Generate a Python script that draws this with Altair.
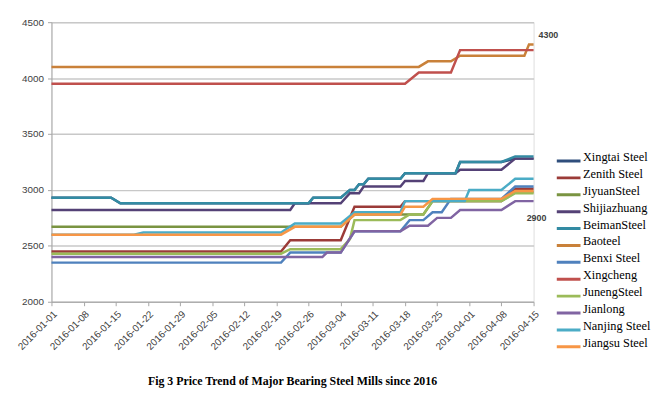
import altair as alt
import pandas as pd

series_names = ["Xingtai Steel", "Zenith Steel", "JiyuanSteel", "Shijiazhuang", "BeimanSteel",
                "Baoteel", "Benxi Steel", "Xingcheng", "JunengSteel", "Jianlong",
                "Nanjing Steel", "Jiangsu Steel"]
series_colors = ["#2F4E7C", "#9B3B38", "#7A9441", "#544176", "#338BA3",
                 "#C9813A", "#4F81BD", "#C0504D", "#9BBB59", "#8064A2",
                 "#4BACC6", "#F79646"]

xingtai_dates = ["2016-01-01", "2016-01-14", "2016-01-16", "2016-02-26", "2016-02-27", "2016-03-04",
                 "2016-03-06", "2016-03-07", "2016-03-08", "2016-03-09", "2016-03-10", "2016-03-17",
                 "2016-03-18", "2016-03-29", "2016-03-30", "2016-04-08", "2016-04-11", "2016-04-15"]
xingtai_values = [2930, 2930, 2880, 2880, 2930, 2930, 3000, 3000, 3050, 3050, 3100, 3100,
                  3150, 3150, 3250, 3250, 3280, 3280]

zenith_dates = ["2016-01-01", "2016-02-20", "2016-02-22", "2016-03-04", "2016-03-07", "2016-03-17",
                "2016-03-18", "2016-04-08", "2016-04-11", "2016-04-15"]
zenith_values = [2450, 2450, 2550, 2550, 2850, 2850, 2900, 2900, 3010, 3010]

jiyuan_dates = ["2016-01-01", "2016-03-04", "2016-03-07", "2016-03-22", "2016-03-24", "2016-04-08",
                "2016-04-11", "2016-04-15"]
jiyuan_values = [2670, 2670, 2780, 2780, 2900, 2900, 2980, 2980]

shijiazhuang_dates = ["2016-01-01", "2016-02-22", "2016-02-23", "2016-03-04", "2016-03-06", "2016-03-08",
                      "2016-03-09", "2016-03-17", "2016-03-18", "2016-03-22", "2016-03-23", "2016-03-29",
                      "2016-03-30", "2016-04-08", "2016-04-11", "2016-04-15"]
shijiazhuang_values = [2820, 2820, 2880, 2880, 2970, 2970, 3030, 3030, 3080, 3080, 3150, 3150,
                       3180, 3180, 3280, 3280]

beiman_dates = ["2016-01-01", "2016-01-14", "2016-01-16", "2016-02-26", "2016-02-27", "2016-03-04",
                "2016-03-06", "2016-03-07", "2016-03-08", "2016-03-09", "2016-03-10", "2016-03-17",
                "2016-03-18", "2016-03-29", "2016-03-30", "2016-04-08", "2016-04-11", "2016-04-15"]
beiman_values = [2930, 2930, 2880, 2880, 2930, 2930, 3000, 3000, 3050, 3050, 3100, 3100,
                 3150, 3150, 3250, 3250, 3300, 3300]

baoteel_dates = ["2016-01-01", "2016-03-21", "2016-03-23", "2016-03-28", "2016-03-30", "2016-04-13",
                 "2016-04-14", "2016-04-15"]
baoteel_values = [4100, 4100, 4150, 4150, 4200, 4200, 4300, 4300]

benxi_dates = ["2016-01-01", "2016-02-20", "2016-02-22", "2016-03-04", "2016-03-07", "2016-03-17",
               "2016-03-19", "2016-03-22", "2016-03-24", "2016-03-26", "2016-03-28", "2016-04-08",
               "2016-04-11", "2016-04-15"]
benxi_values = [2350, 2350, 2440, 2440, 2630, 2630, 2730, 2730, 2800, 2800, 2920, 2920, 3030, 3030]

xingcheng_dates = ["2016-01-01", "2016-03-18", "2016-03-21", "2016-03-28", "2016-03-30", "2016-04-15"]
xingcheng_values = [3950, 3950, 4050, 4050, 4250, 4250]

juneng_dates = ["2016-01-01", "2016-02-20", "2016-02-22", "2016-03-04", "2016-03-06", "2016-03-07",
                "2016-03-17", "2016-03-19", "2016-03-22", "2016-03-24", "2016-04-08", "2016-04-11",
                "2016-04-15"]
juneng_values = [2430, 2430, 2470, 2470, 2560, 2730, 2730, 2780, 2780, 2900, 2900, 2970, 2970]

jianlong_dates = ["2016-01-01", "2016-02-29", "2016-03-01", "2016-03-04", "2016-03-07", "2016-03-17",
                  "2016-03-19", "2016-03-23", "2016-03-25", "2016-03-28", "2016-03-30", "2016-04-08",
                  "2016-04-11", "2016-04-15"]
jianlong_values = [2400, 2400, 2440, 2440, 2630, 2630, 2680, 2680, 2750, 2750, 2820, 2820, 2900, 2900]

nanjing_dates = ["2016-01-01", "2016-01-19", "2016-01-21", "2016-02-20", "2016-02-23", "2016-03-04",
                 "2016-03-07", "2016-03-17", "2016-03-18", "2016-03-31", "2016-04-01", "2016-04-08",
                 "2016-04-11", "2016-04-15"]
nanjing_values = [2600, 2600, 2620, 2620, 2700, 2700, 2800, 2800, 2900, 2900, 3000, 3000, 3100, 3100]

jiangsu_dates = ["2016-01-01", "2016-02-20", "2016-02-23", "2016-03-04", "2016-03-07", "2016-03-17",
                 "2016-03-18", "2016-03-22", "2016-03-24", "2016-04-08", "2016-04-11", "2016-04-15"]
jiangsu_values = [2600, 2600, 2670, 2670, 2780, 2780, 2850, 2850, 2920, 2920, 2990, 2990]

tick_dates = ["2016-01-01", "2016-01-08", "2016-01-15", "2016-01-22", "2016-01-29", "2016-02-05",
              "2016-02-12", "2016-02-19", "2016-02-26", "2016-03-04", "2016-03-11", "2016-03-18",
              "2016-03-25", "2016-04-01", "2016-04-08", "2016-04-15"]
y_ticks = [2000, 2500, 3000, 3500, 4000, 4500]

note_dates = ["2016-04-15", "2016-04-15"]
note_values = [4300, 2900]
note_texts = ["4300", "2900"]
note_dx = [15, 3]
note_dy = [-10, 17]

all_series = [
    (xingtai_dates, xingtai_values), (zenith_dates, zenith_values), (jiyuan_dates, jiyuan_values),
    (shijiazhuang_dates, shijiazhuang_values), (beiman_dates, beiman_values),
    (baoteel_dates, baoteel_values), (benxi_dates, benxi_values), (xingcheng_dates, xingcheng_values),
    (juneng_dates, juneng_values), (jianlong_dates, jianlong_values),
    (nanjing_dates, nanjing_values), (jiangsu_dates, jiangsu_values),
]

rows = []
for idx, (name, (dates, vals)) in enumerate(zip(series_names, all_series)):
    for d, v in zip(dates, vals):
        rows.append({"mill": name, "order": idx, "date": d + "T00:00:00", "price": v})
df = pd.DataFrame(rows)


def dt(s):
    y, m, d = s.split("-")
    return alt.DateTime(year=int(y), month=int(m), date=int(d))


x_scale = alt.Scale(domain=[dt("2016-01-01"), dt("2016-04-15")])
y_scale = alt.Scale(domain=[2000, 4500])

x_axis = alt.Axis(
    title=None, values=[dt(s) for s in tick_dates], tickCount=40, format="%Y-%m-%d",
    labelAngle=-45, labelAlign="right", labelBaseline="top", labelPadding=3,
    labelFont="Liberation Sans", labelFontSize=10, labelColor="#404040",
    domainColor="#A6A6A6", tickColor="#A6A6A6", tickSize=4, grid=False,
    labelOverlap=False, labelFlush=False, labelSeparation=0,
)
y_axis = alt.Axis(
    title=None, values=y_ticks, format="d",
    labelFont="Liberation Sans", labelFontSize=10, labelColor="#404040", labelPadding=4,
    domainColor="#A6A6A6", tickColor="#A6A6A6", tickSize=4,
    grid=True, gridColor="#C8C8C8", gridWidth=1.5,
)

lines = alt.Chart(df).mark_line(strokeWidth=2.5, interpolate="linear").encode(
    x=alt.X("date:T", scale=x_scale, axis=x_axis),
    y=alt.Y("price:Q", scale=y_scale, axis=y_axis),
    color=alt.Color(
        "mill:N",
        scale=alt.Scale(domain=series_names, range=series_colors),
        sort=series_names,
        legend=alt.Legend(
            title=None, orient="none", legendX=510, legendY=134, padding=0,
            symbolType="stroke", symbolSize=576, symbolStrokeWidth=3,
            labelFont="Liberation Serif", labelFontSize=12.5, labelColor="black",
            labelBaseline="alphabetic", labelOffset=1,
            clipHeight=13, rowPadding=0.1, labelLimit=200,
        ),
    ),
    order=alt.Order("order:Q"),
    detail="mill:N",
)

notes_df = pd.DataFrame({
    "date": [d + "T00:00:00" for d in note_dates],
    "price": note_values, "text": note_texts, "dx": note_dx, "dy": note_dy,
})
notes = []
for i in range(len(note_texts)):
    notes.append(
        alt.Chart(notes_df.iloc[[i]]).mark_text(
            font="Liberation Sans", fontSize=9, fontWeight="bold", color="#404040",
            dx=note_dx[i], dy=note_dy[i],
        ).encode(x=alt.X("date:T", scale=x_scale), y=alt.Y("price:Q", scale=y_scale), text="text:N")
    )

chart = alt.layer(lines, *notes).properties(
    width=488, height=283,
    title=alt.TitleParams(
        "Fig 3 Price Trend of Major Bearing Steel Mills since 2016",
        orient="bottom", anchor="middle", font="Liberation Serif", fontSize=12,
        fontWeight="bold", color="black", offset=22,
    ),
    autosize=alt.AutoSizeParams(type="none"),
    padding={"left": 44, "top": 12, "right": 130, "bottom": 90},
).configure_view(stroke=None).configure(background="white").configure_axisX(labelOverlap=False)

chart.save("out.html", embed_options={"renderer": "svg", "actions": False})
